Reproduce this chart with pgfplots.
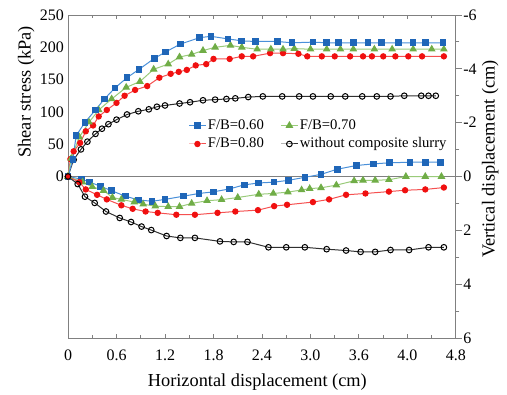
\documentclass[border=0pt]{standalone}
\usepackage{pgfplots}
\pgfplotsset{compat=1.18}
\usepackage{fontspec}
\setmainfont{Liberation Serif}
\definecolor{bl}{HTML}{1F66B8}
\definecolor{bll}{HTML}{4A90D9}
\definecolor{gr}{HTML}{70AD47}
\definecolor{grl}{HTML}{9ACB7A}
\definecolor{rd}{HTML}{F01010}
\definecolor{rdl}{HTML}{F55050}
\definecolor{bk}{HTML}{303030}
\definecolor{axc}{HTML}{808080}
\begin{document}
\begin{tikzpicture}
\path[use as bounding box] (-40.8pt,-33.6pt) rectangle (263.4pt,202.8pt);
\pgfplotsset{
 base/.style={width=232.8pt,height=193.8pt,scale only axis,xmin=0,xmax=4.8,
   tick label style={font=\fontsize{9.6}{11}\selectfont},
   label style={font=\fontsize{11}{13}\selectfont},
   axis line style={axc,line width=0.6pt}, clip=false},
 s60/.style={bll,line width=0.6pt,mark=square*,mark size=1.7pt,mark options={fill=bl,draw=bl,solid}},
 s70/.style={grl,line width=0.6pt,mark=triangle*,mark size=2.1pt,mark options={fill=gr,draw=gr,solid}},
 s80/.style={rdl,line width=0.6pt,mark=*,mark size=1.6pt,mark options={fill=rd,draw=rd,solid}},
 s00/.style={bk,line width=0.6pt,mark=o,mark size=1.7pt,mark options={fill=white,draw=black,solid}},
}
\begin{axis}[base,
  ymin=-250,ymax=250,
  ytick={0,50,100,150,200,250},
  yticklabels={\textrm{0},\textrm{50},\textrm{100},\textrm{150},\textrm{200},\textrm{250}},
  ytick style={draw=none},
  yticklabel style={xshift=1pt},
  xtick={0,0.6,1.2,1.8,2.4,3.0,3.6,4.2,4.8},
  xticklabels={\textrm{0},\textrm{0.6},\textrm{1.2},\textrm{1.8},\textrm{2.4},\textrm{3.0},\textrm{3.6},\textrm{4.0},\textrm{4.8}},
  minor xtick={0.3,0.9,1.5,2.1,2.7,3.3,3.9,4.5},
  tick align=inside,
  xtick style={axc,line width=0.6pt},
  major tick length=2.6pt, minor tick length=1.8pt,
  xticklabel style={yshift=-3.5pt},
  xlabel={Horizontal displacement (cm)},
  ylabel={Shear stress (kPa)},
  xlabel style={at={(axis description cs:0.488,-0.135)},anchor=center},
  ylabel style={at={(axis description cs:-0.108,0.762)},anchor=center},
]
\draw[axc,line width=0.6pt] (axis cs:0,0) -- (axis cs:4.8,0);
\addplot[s00] coordinates {(0,0) (0.07,26) (0.16,42) (0.24,54) (0.34,66) (0.42,74) (0.50,81) (0.60,88) (0.73,96) (0.87,101) (1.00,104) (1.10,108) (1.20,110) (1.38,113) (1.51,115) (1.67,118) (1.82,119) (1.96,120) (2.07,121) (2.23,123) (2.41,124) (2.65,124) (2.86,124) (3.03,124) (3.25,124) (3.43,124) (3.64,124) (3.82,124) (3.99,124) (4.16,125) (4.37,125) (4.46,125) (4.55,125)};
\addplot[s80] coordinates {(0,0) (0.03,27) (0.07,39) (0.15,52) (0.22,70) (0.31,79) (0.38,93) (0.48,103) (0.60,114) (0.70,125) (0.83,134) (0.98,140) (1.13,153) (1.27,159) (1.37,162) (1.47,165) (1.58,172) (1.71,174) (1.80,182) (2.00,182) (2.15,186) (2.29,186) (2.50,191) (2.66,191) (2.85,190) (2.96,186) (3.14,186) (3.30,186) (3.49,186) (3.65,186) (3.76,186) (3.90,186) (4.05,186) (4.21,186) (4.38,186) (4.65,186)};
\addplot[s70] coordinates {(0,0) (0.04,28) (0.14,61) (0.26,84) (0.38,103) (0.54,120) (0.72,138) (0.89,147) (1.06,166) (1.24,174) (1.38,185) (1.53,189) (1.67,195) (1.82,200) (2.01,203) (2.15,200) (2.34,197) (2.51,197) (2.66,197) (2.80,198) (3.00,197) (3.20,197) (3.37,197) (3.53,197) (3.79,197) (4.01,197) (4.27,197) (4.50,197) (4.65,197)};
\addplot[s60] coordinates {(0,0) (0.06,26) (0.10,63) (0.21,84) (0.34,103) (0.45,120) (0.58,137) (0.73,153) (0.88,166) (1.07,183) (1.21,193) (1.39,205) (1.63,215) (1.77,217) (1.98,213) (2.15,210) (2.32,209) (2.59,209) (2.77,207) (3.03,208) (3.20,207) (3.35,207) (3.53,207) (3.71,207) (3.88,207) (4.09,207) (4.27,207) (4.42,207) (4.64,207)};
\end{axis}
\begin{axis}[base,
  axis x line=none, axis y line*=right,
  ymin=-6,ymax=6,y dir=reverse,
  ytick={-6,-4,-2,0,2,4,6},
  yticklabels={\textrm{-6},\textrm{-4},\textrm{-2},\textrm{0},\textrm{2},\textrm{4},\textrm{6}},
  minor ytick={-5,-3,-1,1,3,5},
  tick align=outside,
  ytick style={axc,line width=0.6pt},
  major tick length=3.4pt, minor tick length=2pt,
  yticklabel style={inner sep=0.8pt},
  ylabel={Vertical displacement (cm)},
  ylabel style={at={(axis description cs:1.088,0.554)},anchor=center},
  legend columns=2,
  legend cell align=left,
  legend style={at={(axis description cs:0.31,0.683)},anchor=north west,draw=none,fill=none,inner sep=0pt,
    font=\fontsize{8.8}{10}\selectfont, column sep=0pt, row sep=1.6pt,
    nodes={inner sep=1pt},
    /tikz/every even column/.append style={column sep=9pt}},
  legend image code/.code={\draw[#1,mark repeat=2,mark phase=2] plot coordinates {(0pt,0pt) (5pt,0pt) (10pt,0pt)};},
]
\addplot[s60] coordinates {(0,0) (0.17,0.10) (0.27,0.21) (0.40,0.36) (0.54,0.53) (0.71,0.73) (0.87,0.87) (1.04,0.92) (1.20,0.85) (1.43,0.73) (1.62,0.63) (1.80,0.57) (2.00,0.46) (2.18,0.31) (2.36,0.24) (2.55,0.21) (2.73,0.14) (2.93,0.03) (3.13,-0.08) (3.33,-0.27) (3.57,-0.41) (3.78,-0.47) (3.98,-0.51) (4.23,-0.53) (4.42,-0.53) (4.61,-0.53)};
\addlegendentry{F/B=0.60}
\addplot[s70] coordinates {(0,0) (0.18,0.21) (0.30,0.38) (0.44,0.52) (0.55,0.78) (0.66,0.85) (0.82,0.95) (0.93,1.03) (1.08,1.10) (1.24,1.12) (1.38,1.12) (1.53,1.00) (1.72,0.90) (1.90,0.86) (2.10,0.78) (2.36,0.66) (2.54,0.63) (2.72,0.58) (2.89,0.50) (2.99,0.45) (3.13,0.42) (3.32,0.32) (3.54,0.16) (3.65,0.14) (3.80,0.14) (3.97,0.12) (4.18,0.0) (4.42,0.0) (4.62,0.0)};
\addlegendentry{F/B=0.70}
\addplot[s80] coordinates {(0,0) (0.14,0.21) (0.22,0.48) (0.36,0.68) (0.48,0.85) (0.66,1.07) (0.80,1.20) (0.96,1.30) (1.11,1.35) (1.34,1.42) (1.57,1.42) (1.85,1.35) (2.07,1.30) (2.35,1.25) (2.55,1.10) (2.71,1.05) (3.03,0.95) (3.23,0.85) (3.44,0.68) (3.68,0.63) (3.97,0.56) (4.17,0.51) (4.42,0.48) (4.65,0.41)};
\addlegendentry{F/B=0.80}
\addplot[s00] coordinates {(0,0) (0.12,0.28) (0.21,0.75) (0.33,0.98) (0.47,1.30) (0.64,1.54) (0.78,1.69) (0.91,1.86) (1.03,1.99) (1.22,2.21) (1.39,2.28) (1.57,2.28) (1.88,2.41) (2.05,2.43) (2.22,2.43) (2.48,2.63) (2.70,2.63) (2.93,2.63) (3.20,2.70) (3.44,2.75) (3.62,2.80) (3.80,2.80) (3.99,2.73) (4.22,2.73) (4.46,2.63) (4.65,2.63)};
\addlegendentry{without composite slurry}
\end{axis}
\end{tikzpicture}
\end{document}
